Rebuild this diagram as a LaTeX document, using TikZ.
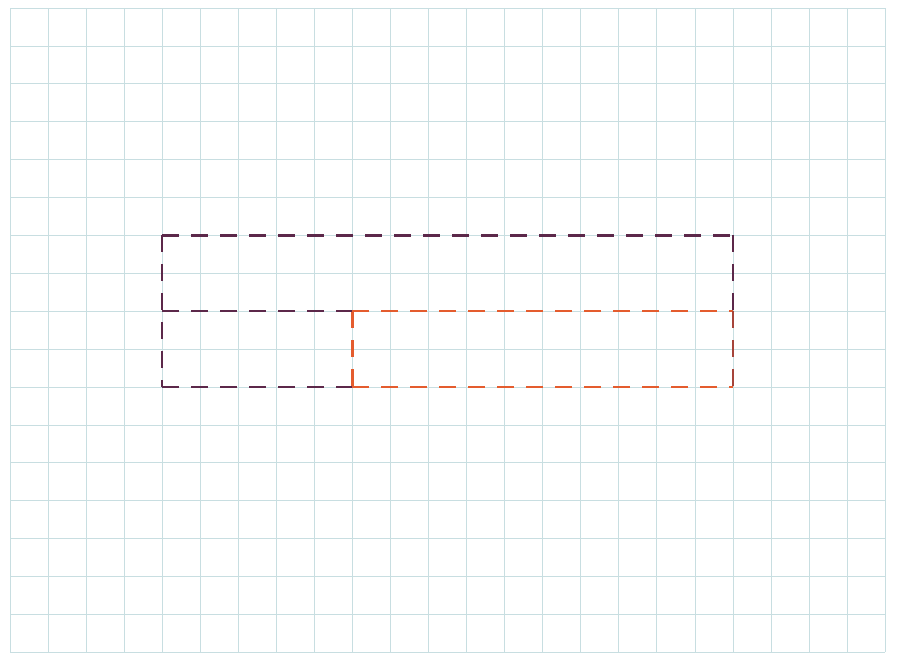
\documentclass[tikz,border=0pt]{standalone}
\usepackage{xcolor}
\usepackage{tikz}
\definecolor{gridblue}{RGB}{200,222,225}
\definecolor{plum}{RGB}{92,40,74}
\definecolor{redorange}{RGB}{228,92,46}

\begin{document}
\begin{tikzpicture}[
  x=38.05pt, y=-37.9pt,
  gridline/.style={draw=gridblue, line width=0.8pt},
  outline/.style={line width=2.2pt, dash pattern=on 17pt off 12pt},
]
\useasboundingbox[fill=white] (-10pt,8pt) rectangle (887pt,-646pt);

% squared paper
\foreach \i in {0,...,23}
  \draw[gridline] (\i,0) -- (\i,17);
\foreach \j in {0,...,17}
  \draw[gridline] (0,\j) -- (23,\j);

% corners of the figure
\coordinate (tl) at (4,6);
\coordinate (tr) at (19,6);
\coordinate (ml) at (4,8);
\coordinate (mm) at (9,8);
\coordinate (mr) at (19,8);
\coordinate (bl) at (4,10);
\coordinate (bm) at (9,10);
\coordinate (br) at (19,10);

% orange part
\draw[outline, redorange] (mm) -- (mr);
\draw[outline, redorange] (mm) -- (bm);
\draw[outline, redorange] (bm) -- (br);
\draw[outline, redorange] (mr) -- (br);

% purple part
\draw[outline, plum] (tl) -- (tr);
\draw[outline, plum] (tr) -- (mr);
\draw[outline, plum] (tl) -- (bl);
\draw[outline, plum] (ml) -- (mm);
\draw[outline, plum] (bl) -- (bm);
\draw[outline, plum, opacity=0.45] (mr) -- (br);

\end{tikzpicture}
\end{document}
